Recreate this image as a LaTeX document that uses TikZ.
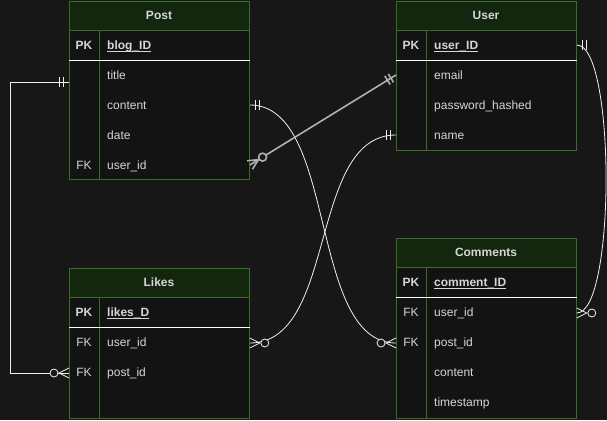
\documentclass[tikz,border=0pt]{standalone}
\usepackage{fontspec}
\setmainfont{Liberation Sans}
\usetikzlibrary{calc}
\definecolor{bg}{HTML}{171717}
\definecolor{bodyc}{HTML}{131313}
\definecolor{headc}{HTML}{13260E}
\definecolor{borderc}{HTML}{3B6B28}
\definecolor{txt}{HTML}{D6D6D6}
\definecolor{lnc}{HTML}{F0F0F0}
\definecolor{selc}{HTML}{B0B0B0}
\tikzset{
  tbox/.style={draw=borderc, fill=bodyc, inner sep=0pt, line width=0.8pt},
  thead/.style={draw=borderc, fill=headc, inner sep=0pt, line width=0.8pt, text=txt, font=\fontsize{12pt}{14pt}\selectfont\bfseries},
  keyt/.style={anchor=base, inner sep=0pt, text=txt, font=\fontsize{12pt}{14pt}\selectfont},
  fldt/.style={anchor=base west, inner sep=0pt, text=txt, font=\fontsize{12pt}{14pt}\selectfont},
  erl/.style={draw=lnc, line width=0.8pt},
  sell/.style={draw=selc, line width=1.6pt},
}
\newcommand\ertable[6]{% id, x, top, bottom, title, pk name
  \node[tbox, minimum width=180pt, minimum height={(#4-#3)*1pt}, anchor=north west] (#1) at (#2,#3) {};
  \node[thead, minimum width=180pt, minimum height=29pt, anchor=north west] (#1-h) at (#1.north west) {};
  \node[keyt, font=\fontsize{12pt}{14pt}\selectfont\bfseries] (#1-title) at ($(#1.north west)+(90,18.5)$) {#5};
  \draw[borderc, line width=0.8pt] ($(#1.north west)+(30,29)$) -- ($(#1.south west)+(30,0)$);
  \draw[white, line width=0.8pt] ($(#1.north west)+(0,59)$) -- ($(#1.north east)+(0,59)$);
  \node[keyt, font=\fontsize{12pt}{14pt}\selectfont\bfseries] (#1-pk) at ($(#1.north west)+(15,48.5)$) {PK};
  \node[fldt, font=\fontsize{12pt}{14pt}\selectfont\bfseries] (#1-id) at ($(#1.north west)+(38,48.5)$) {#6};
  \draw[txt, line width=0.8pt] ($(#1-id.base west)+(0,2.2)$) -- ($(#1-id.base east)+(0,2.2)$);
}
\newcommand\erfield[5]{% table id, node name, row index, key, text
  \node[keyt] (#2-k) at ($(#1.north west)+(15,48.5+30*#3)$) {#4};
  \node[fldt] (#2) at ($(#1.north west)+(38,48.5+30*#3)$) {#5};
}
\newcommand\erOne[3][erl]{% style, end point, toward point
  \path ($(#2)!6pt!(#3)$) coordinate (ta) ($(#2)!10pt!(#3)$) coordinate (tb);
  \draw[#1] ($(ta)!5pt!90:(#3)$) -- ($(ta)!5pt!-90:(#3)$);
  \draw[#1] ($(tb)!5pt!90:(#3)$) -- ($(tb)!5pt!-90:(#3)$);
}
\newcommand\erMany[3][erl]{% style, end point, toward point
  \path ($(#2)!10pt!(#3)$) coordinate (ta) ($(#2)!15pt!(#3)$) coordinate (tb);
  \draw[#1] ($(#2)!5pt!90:(#3)$) -- (ta) -- ($(#2)!5pt!-90:(#3)$);
  \draw[#1, fill=bg] (tb) circle[radius=4pt];
}
\begin{document}
\begin{tikzpicture}[x=1pt, y=-1pt]
\path[use as bounding box, fill=bg] (0,0) rectangle (607,420);

% tables
\ertable{post}{69}{1}{179}{Post}{blog\_ID}
\erfield{post}{post-title}{1}{}{title}
\erfield{post}{post-content}{2}{}{content}
\erfield{post}{post-date}{3}{}{date}
\erfield{post}{post-user}{4}{FK}{user\_id}

\ertable{user}{396}{1}{150}{User}{user\_ID}
\erfield{user}{user-email}{1}{}{email}
\erfield{user}{user-pw}{2}{}{password\_hashed}
\erfield{user}{user-name}{3}{}{name}

\ertable{likes}{69}{268}{418}{Likes}{likes\_D}
\erfield{likes}{likes-user}{1}{FK}{user\_id}
\erfield{likes}{likes-post}{2}{FK}{post\_id}

\ertable{com}{396}{238}{418}{Comments}{comment\_ID}
\erfield{com}{com-user}{1}{FK}{user\_id}
\erfield{com}{com-post}{2}{FK}{post\_id}
\erfield{com}{com-content}{3}{}{content}
\erfield{com}{com-time}{4}{}{timestamp}

% connector end points
\coordinate (a1) at ($(post.north west)+(0,81)$);
\coordinate (a1d) at ($(a1)+(-20,0)$);
\coordinate (a2) at ($(likes.north west)+(0,105)$);
\coordinate (a2d) at ($(a2)+(-20,0)$);

\coordinate (b1) at ($(post.north east)+(0,104)$);
\coordinate (b1d) at ($(b1)+(20,0)$);
\coordinate (b2) at ($(com.north west)+(0,105)$);
\coordinate (b2d) at ($(b2)+(-20,0)$);

\coordinate (c1) at ($(post.north east)+(0,164)$);
\coordinate (c2) at ($(user.north west)+(0,74)$);

\coordinate (d1) at ($(user.north west)+(0,134)$);
\coordinate (d1d) at ($(d1)+(-20,0)$);
\coordinate (d2) at ($(likes.north east)+(0,75)$);
\coordinate (d2d) at ($(d2)+(20,0)$);

\coordinate (e1) at ($(user.north east)+(0,44)$);
\coordinate (e1d) at ($(e1)+(20,0)$);
\coordinate (e2) at ($(com.north east)+(0,75)$);
\coordinate (e2d) at ($(e2)+(20,0)$);

% connectors
\draw[erl] (a1) -- ++(-59,0) |- (a2);
\draw[erl] (b1) .. controls +(88,0) and +(-88,0) .. (b2);
\draw[erl] (d1) .. controls +(-88,0) and +(88,0) .. (d2);
\draw[erl] (e1) .. controls +(39,0) and +(39,0) .. (e2);
\draw[sell] (c1) -- (c2);

% end markers
\erOne{a1}{a1d}
\erMany{a2}{a2d}
\erOne{b1}{b1d}
\erMany{b2}{b2d}
\erOne{d1}{d1d}
\erMany{d2}{d2d}
\erOne{e1}{e1d}
\erMany{e2}{e2d}
\erMany[sell]{c1}{c2}
\erOne[sell]{c2}{c1}
\end{tikzpicture}
\end{document}
